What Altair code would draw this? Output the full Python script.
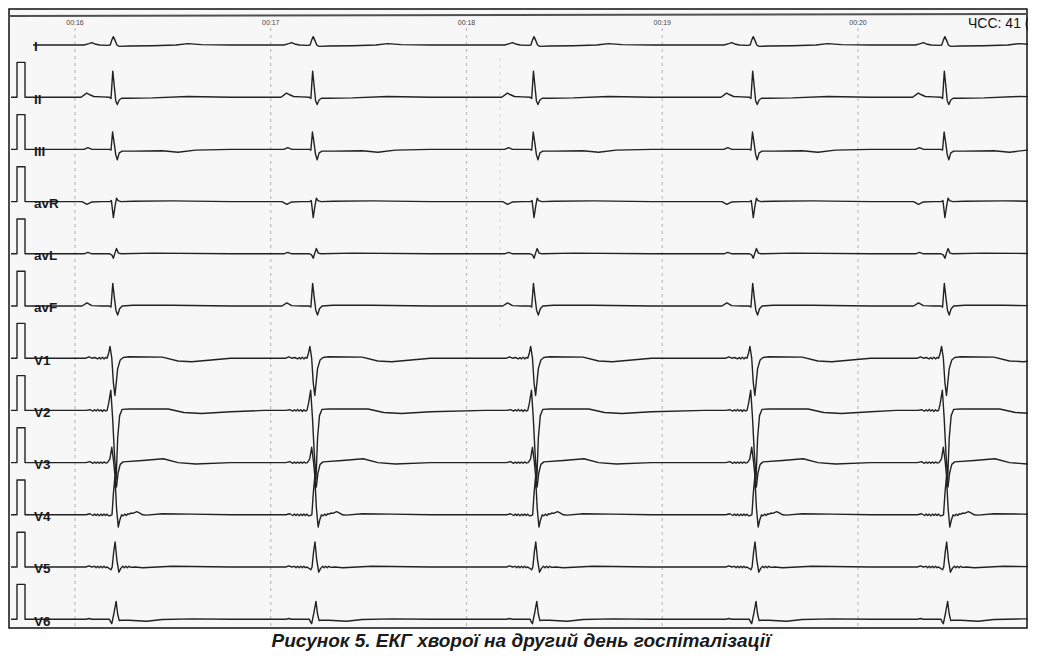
import altair as alt
import pandas as pd

# ---------------- data ----------------
LEADS = ["I", "II", "III", "avR", "avL", "avF", "V1", "V2", "V3", "V4", "V5", "V6"]
BEAT_TIMES = [16.196, 17.217, 18.345, 19.465, 20.444]          # s, QRS positions
TIME_TICKS = [16, 17, 18, 19, 20]
TIME_LABELS = ["00:16", "00:17", "00:18", "00:19", "00:20"]
LEAD_SPACING_MV = 1.5

# calibration pulse (1 mV) at the start of leads II..V6
CAL_T = [15.6731, 15.7037, 15.7037, 15.7446, 15.7446, 15.7854]
CAL_MV = [0.0, 0.0, 1.0, 1.0, 0.0, 0.0]
TRACE_START = 15.7854

# one beat per lead: offsets from QRS time (ms) and amplitudes (mV)
I_DT = [-250, -150, -125, -110, -95, -70, -30, -16, -8, 0, 8, 18, 30, 80, 200, 320, 380, 450, 600]
I_MV = [0.0, 0.0, 0.04, 0.07, 0.03, 0.0, -0.01, 0.0, 0.14, 0.24, 0.14, 0.0, -0.04, -0.03, -0.02, 0.0, 0.04, 0.01, 0.0]

II_DT = [-250, -165, -150, -136, -120, -100, -60, -20, -12, -3, 5, 12, 20, 30, 42, 80, 200, 380, 600]
II_MV = [0.0, 0.0, 0.06, 0.12, 0.07, 0.02, 0.01, 0.0, -0.04, 0.75, 0.3, -0.1, -0.21, -0.08, -0.03, -0.03, -0.02, 0.02, 0.0]

III_DT = [-250, -150, -130, -110, -60, -20, -12, -4, 5, 12, 20, 30, 45, 100, 250, 330, 420, 600]
III_MV = [0.0, 0.0, 0.05, 0.0, 0.0, 0.0, -0.02, 0.5, 0.15, -0.15, -0.3, -0.1, -0.05, -0.05, -0.04, -0.08, -0.02, 0.0]

AVR_DT = [-250, -160, -135, -110, -60, -18, -10, 0, 8, 16, 24, 40, 100, 300, 600]
AVR_MV = [0.0, 0.0, -0.08, -0.01, 0.0, 0.0, 0.03, -0.46, -0.15, 0.1, 0.03, 0.0, 0.01, 0.02, 0.0]

AVL_DT = [-250, -150, -130, -110, -20, -8, 0, 8, 16, 26, 40, 200, 600]
AVL_MV = [0.0, 0.0, 0.04, 0.0, 0.0, -0.03, -0.13, 0.02, 0.15, 0.02, 0.0, 0.02, 0.0]

AVF_DT = [-250, -160, -135, -110, -60, -20, -12, -3, 5, 13, 22, 32, 45, 100, 300, 600]
AVF_MV = [0.0, 0.0, 0.09, 0.01, 0.0, 0.0, -0.03, 0.65, 0.25, -0.12, -0.26, -0.08, 0.0, 0.02, 0.02, 0.0]

V1_DT = [-250, -140, -125, -110, -95, -80, -72, -64, -56, -48, -40, -32, -24, -17, -8, 0, 8, 14, 22, 35, 50, 80, 250, 330, 400, 500, 600]
V1_MV = [0.0, 0.0, 0.04, 0.0, 0.02, -0.02, 0.02, -0.02, 0.03, -0.02, 0.02, 0.0, 0.15, 0.34, 0.0, -0.7, -1.07, -0.75, -0.3, -0.05, 0.02, 0.04, 0.03, -0.08, -0.1, -0.05, 0.0]

V2_DT = [-250, -140, -120, -104, -96, -88, -80, -72, -64, -56, -48, -40, -32, -24, -13, -4, 5, 14, 22, 32, 45, 80, 280, 360, 450, 600]
V2_MV = [0.0, 0.0, 0.02, -0.02, 0.02, -0.02, 0.03, -0.02, 0.02, -0.03, 0.02, -0.02, 0.0, 0.2, 0.58, -0.2, -1.2, -2.0, -0.8, -0.15, 0.03, 0.04, 0.04, -0.06, -0.09, -0.04]

V3_DT = [-250, -140, -120, -104, -96, -88, -80, -72, -64, -56, -48, -40, -30, -18, -8, 2, 10, 16, 24, 35, 50, 150, 255, 330, 420, 600]
V3_MV = [0.0, 0.0, 0.03, -0.02, 0.02, -0.02, 0.02, -0.02, 0.02, -0.02, 0.02, -0.01, 0.0, 0.1, 0.44, 0.0, -0.5, -0.7, -0.3, -0.05, 0.02, 0.06, 0.11, 0.0, -0.04, 0.0]

V4_DT = [-250, -140, -120, -104, -96, -88, -80, -72, -64, -56, -48, -40, -32, -24, -16, -7, 0, 8, 16, 25, 33, 42, 50, 58, 66, 74, 82, 90, 100, 120, 135, 150, 170, 250, 400, 600]
V4_MV = [0.0, 0.0, 0.03, -0.02, 0.02, -0.02, 0.02, -0.03, 0.02, -0.02, 0.02, -0.02, 0.02, -0.03, -0.02, 0.0, 0.6, 1.1, 0.2, -0.35, -0.15, 0.0, -0.03, 0.02, -0.02, 0.03, 0.02, 0.05, 0.04, 0.09, 0.05, 0.0, -0.01, 0.03, 0.02, 0.0]

V5_DT = [-250, -140, -125, -110, -96, -88, -80, -72, -64, -56, -48, -40, -32, -24, -12, -6, 2, 9, 18, 28, 38, 48, 56, 64, 72, 80, 90, 110, 150, 300, 600]
V5_MV = [0.0, 0.0, 0.03, 0.0, 0.02, -0.02, 0.02, -0.02, 0.02, -0.02, 0.02, -0.02, 0.0, -0.03, -0.08, 0.0, 0.45, 0.72, 0.2, -0.15, -0.04, 0.02, -0.02, 0.02, -0.02, 0.02, -0.01, 0.0, -0.02, 0.02, 0.0]

V6_DT = [-250, -140, -125, -110, -40, -20, -14, -8, 4, 14, 22, 30, 40, 80, 170, 250, 400, 600]
V6_MV = [0.0, 0.0, 0.02, 0.0, 0.0, 0.0, -0.08, -0.13, 0.2, 0.51, 0.15, -0.04, -0.03, -0.03, -0.06, -0.01, 0.01, 0.0]

TEMPLATES = {
    "I": (I_DT, I_MV), "II": (II_DT, II_MV), "III": (III_DT, III_MV),
    "avR": (AVR_DT, AVR_MV), "avL": (AVL_DT, AVL_MV), "avF": (AVF_DT, AVF_MV),
    "V1": (V1_DT, V1_MV), "V2": (V2_DT, V2_MV), "V3": (V3_DT, V3_MV),
    "V4": (V4_DT, V4_MV), "V5": (V5_DT, V5_MV), "V6": (V6_DT, V6_MV),
}

HR_TEXT = "ЧСС: 41 (2"
CAPTION = "Рисунок 5. ЕКГ хворої на другий день госпіталізації"

# ---------------- build tables ----------------
rows = []
labels = []
for k, lead in enumerate(LEADS):
    off = -LEAD_SPACING_MV * k
    pts = []
    if lead == "I":
        pts.append((TRACE_START, 0.0))
    else:
        pts += list(zip(CAL_T, CAL_MV))
    dts, mvs = TEMPLATES[lead]
    for bt in BEAT_TIMES:
        for dt, v in zip(dts, mvs):
            pts.append((bt + dt / 1000.0, v))
    for i, (t, v) in enumerate(pts):
        rows.append({"lead": lead, "i": i, "t": t, "y": v + off})
    labels.append({"lead": lead, "t": 15.7905, "y": off - 0.07})
trace_df = pd.DataFrame(rows)
label_df = pd.DataFrame(labels)

X_DOM = [15.65772, 20.86845]
Y_DOM = [-17.4138, 1.06322]
FRAME_T = [15.66283, 20.86334]
FRAME_Y = [-16.7529, 1.03448]
xs = alt.Scale(domain=X_DOM, nice=False, zero=False)
ys = alt.Scale(domain=Y_DOM, nice=False, zero=False)


def X(f):
    return alt.X(f, scale=xs, axis=None)


def Y(f):
    return alt.Y(f, scale=ys, axis=None)


frame_df = pd.DataFrame({"t0": [FRAME_T[0]], "t1": [FRAME_T[1]], "y0": [FRAME_Y[0]], "y1": [FRAME_Y[1]]})
frame = alt.Chart(frame_df).mark_rect(fill="#f7f7f7", stroke="#111111", strokeWidth=1.5).encode(
    x=X("t0:Q"), x2="t1:Q", y=Y("y0:Q"), y2="y1:Q"
)

grid_df = pd.DataFrame({"t": TIME_TICKS, "lab": TIME_LABELS,
                        "y0": [0.49] * 5, "y1": [FRAME_Y[0]] * 5, "yl": [0.632] * 5})
grid = alt.Chart(grid_df).mark_rule(color="#bdbdbd", strokeWidth=1.2, strokeDash=[3, 4]).encode(
    x=X("t:Q"), y=Y("y0:Q"), y2="y1:Q"
)
tlabels = alt.Chart(grid_df).mark_text(font="Liberation Sans", fontSize=7, color="#444444",
                                       baseline="middle", align="center").encode(
    x=X("t:Q"), y=Y("yl:Q"), text="lab:N"
)
art_df = pd.DataFrame({"t": [18.171], "y0": [-0.374], "y1": [-8.19]})
artifact = alt.Chart(art_df).mark_rule(color="#d6d6d6", strokeWidth=1, strokeDash=[3, 4]).encode(
    x=X("t:Q"), y=Y("y0:Q"), y2="y1:Q"
)
top_df = pd.DataFrame({"t": FRAME_T, "y": [0.8333, 0.8908]})
topline = alt.Chart(top_df).mark_line(color="#505050", strokeWidth=2).encode(
    x=X("t:Q"), y=Y("y:Q")
)
traces = alt.Chart(trace_df).mark_line(clip=True, color="#222222", strokeWidth=1.4,
                                       strokeJoin="round").encode(
    x=X("t:Q"), y=Y("y:Q"), detail="lead:N", order="i:Q"
)
lead_text = alt.Chart(label_df).mark_text(font="Liberation Sans", fontSize=13.5, fontWeight="bold",
                                          color="#1a1a1a", align="left", baseline="middle").encode(
    x=X("t:Q"), y=Y("y:Q"), text="lead:N"
)
hr_df = pd.DataFrame({"t": [20.562], "y": [0.488], "txt": [HR_TEXT]})
hr_text = alt.Chart(hr_df).mark_text(font="Liberation Sans", fontSize=14, color="#111",
                                     align="left", baseline="alphabetic", clip=True).encode(
    x=X("t:Q"), y=Y("y:Q"), text="txt:N"
)
cap_df = pd.DataFrame({"t": [18.27838], "y": [-17.2988], "txt": [CAPTION]})
caption = alt.Chart(cap_df).mark_text(font="Liberation Sans", fontSize=19, fontWeight="bold",
                                      fontStyle="italic", color="#1a1a1a", align="center",
                                      baseline="alphabetic").encode(
    x=X("t:Q"), y=Y("y:Q"), text="txt:N"
)

chart = alt.layer(frame, grid, artifact, topline, tlabels, traces, lead_text, hr_text, caption).properties(
    width=1020,
    height=643,
    padding=0,
    autosize=alt.AutoSizeParams(type="none"),
    background="white",
).configure_view(strokeWidth=0)

chart.save("out.html", embed_options={"renderer": "svg", "actions": False})
